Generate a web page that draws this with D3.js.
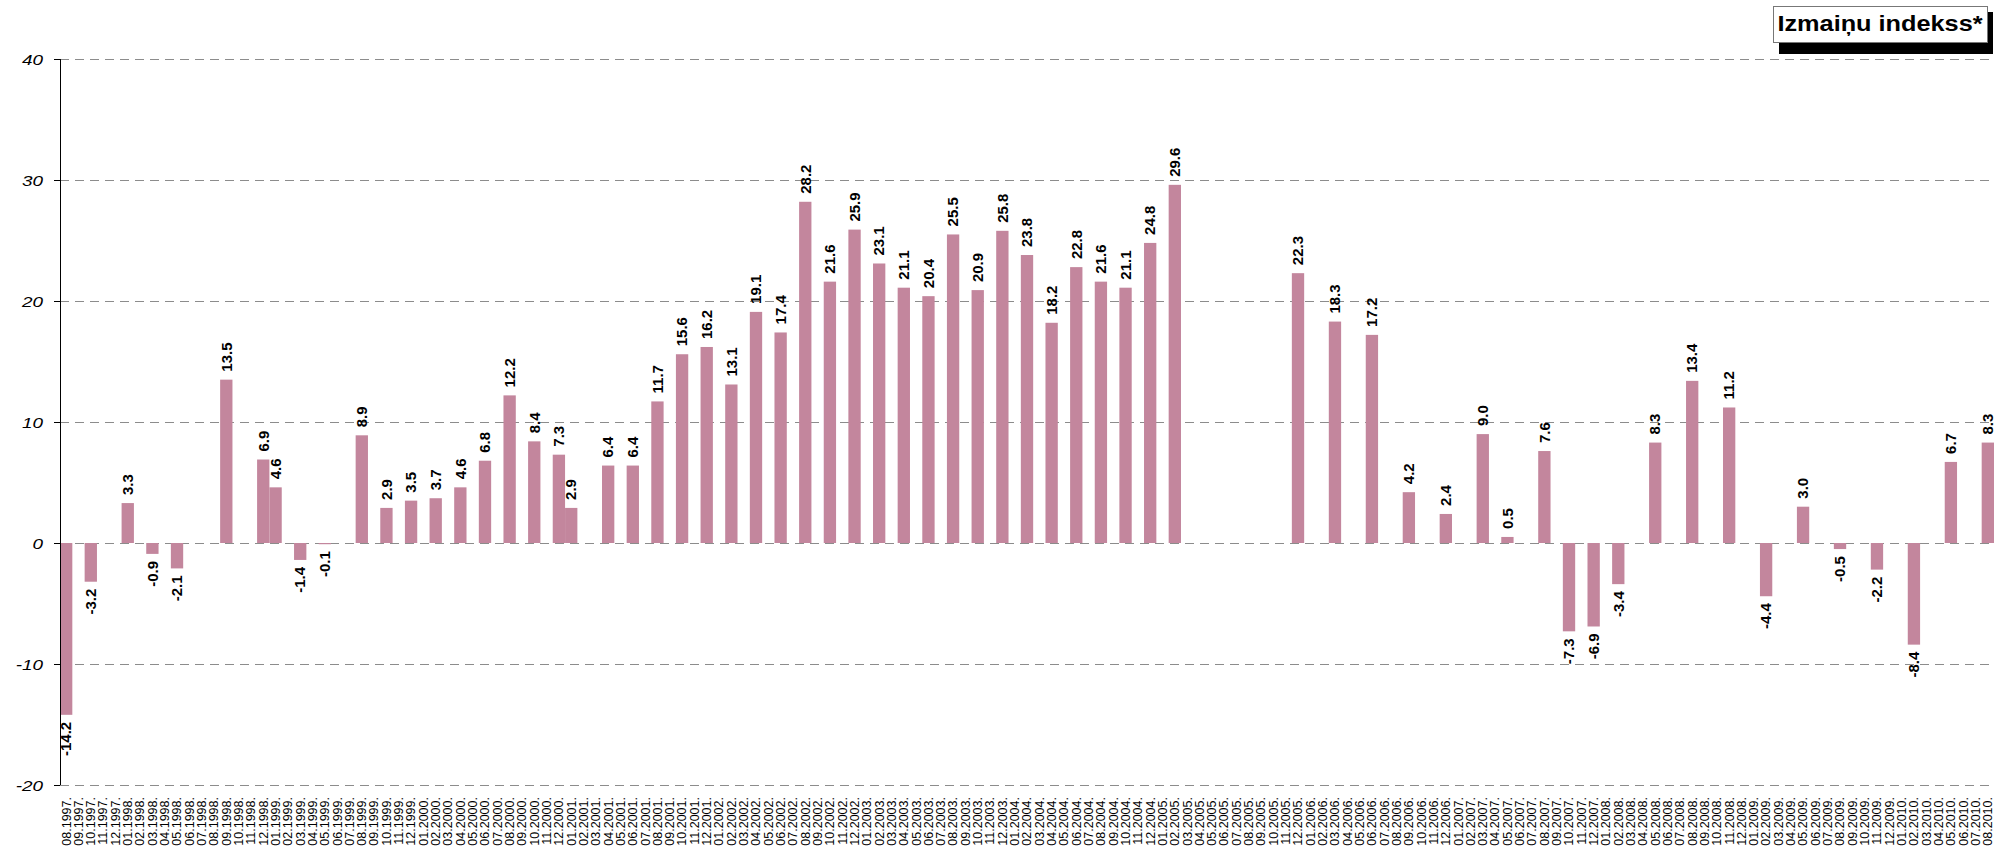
<!DOCTYPE html>
<html>
<head>
<meta charset="utf-8">
<script src="https://cdn.jsdelivr.net/npm/d3@7"></script>
<style>
  body { margin: 0; background: #fff; }
  text { font-family: "Liberation Sans", Arial, sans-serif; }
</style>
</head>
<body>
<script>
//chart size
var w = 2006, h = 849;

//month categories on the x axis
var months = [
  "08.1997.","09.1997.","10.1997.","11.1997.","12.1997.",
  "01.1998.","02.1998.","03.1998.","04.1998.","05.1998.","06.1998.","07.1998.","08.1998.","09.1998.","10.1998.","11.1998.","12.1998.",
  "01.1999.","02.1999.","03.1999.","04.1999.","05.1999.","06.1999.","07.1999.","08.1999.","09.1999.","10.1999.","11.1999.","12.1999.",
  "01.2000.","02.2000.","03.2000.","04.2000.","05.2000.","06.2000.","07.2000.","08.2000.","09.2000.","10.2000.","11.2000.","12.2000.",
  "01.2001.","02.2001.","03.2001.","04.2001.","05.2001.","06.2001.","07.2001.","08.2001.","09.2001.","10.2001.","11.2001.","12.2001.",
  "01.2002.","02.2002.","03.2002.","04.2002.","05.2002.","06.2002.","07.2002.","08.2002.","09.2002.","10.2002.","11.2002.","12.2002.",
  "01.2003.","02.2003.","03.2003.","04.2003.","05.2003.","06.2003.","07.2003.","08.2003.","09.2003.","10.2003.","11.2003.","12.2003.",
  "01.2004.","02.2004.","03.2004.","04.2004.","05.2004.","06.2004.","07.2004.","08.2004.","09.2004.","10.2004.","11.2004.","12.2004.",
  "01.2005.","02.2005.","03.2005.","04.2005.","05.2005.","06.2005.","07.2005.","08.2005.","09.2005.","10.2005.","11.2005.","12.2005.",
  "01.2006.","02.2006.","03.2006.","04.2006.","05.2006.","06.2006.","07.2006.","08.2006.","09.2006.","10.2006.","11.2006.","12.2006.",
  "01.2007.","02.2007.","03.2007.","04.2007.","05.2007.","06.2007.","07.2007.","08.2007.","09.2007.","10.2007.","11.2007.","12.2007.",
  "01.2008.","02.2008.","03.2008.","04.2008.","05.2008.","06.2008.","07.2008.","08.2008.","09.2008.","10.2008.","11.2008.","12.2008.",
  "01.2009.","02.2009.","03.2009.","04.2009.","05.2009.","06.2009.","07.2009.","08.2009.","09.2009.","10.2009.","11.2009.","12.2009.",
  "01.2010.","02.2010.","03.2010.","04.2010.","05.2010.","06.2010.","07.2010.","08.2010."
];

//months that have a value, and the values
var barMonths = [
  "08.1997.","10.1997.","01.1998.","03.1998.","05.1998.","09.1998.","12.1998.","01.1999.","03.1999.","05.1999.",
  "08.1999.","10.1999.","12.1999.","02.2000.","04.2000.","06.2000.","08.2000.","10.2000.","12.2000.","01.2001.",
  "04.2001.","06.2001.","08.2001.","10.2001.","12.2001.","02.2002.","04.2002.","06.2002.","08.2002.","10.2002.",
  "12.2002.","02.2003.","04.2003.","06.2003.","08.2003.","10.2003.","12.2003.","02.2004.","04.2004.","06.2004.",
  "08.2004.","10.2004.","12.2004.","02.2005.","12.2005.","03.2006.","06.2006.","09.2006.","12.2006.","03.2007.",
  "05.2007.","08.2007.","10.2007.","12.2007.","02.2008.","05.2008.","08.2008.","11.2008.","02.2009.","05.2009.",
  "08.2009.","11.2009.","02.2010.","05.2010.","08.2010."
];
var barValues = [
  -14.2,-3.2,3.3,-0.9,-2.1,13.5,6.9,4.6,-1.4,-0.1,
  8.9,2.9,3.5,3.7,4.6,6.8,12.2,8.4,7.3,2.9,
  6.4,6.4,11.7,15.6,16.2,13.1,19.1,17.4,28.2,21.6,
  25.9,23.1,21.1,20.4,25.5,20.9,25.8,23.8,18.2,22.8,
  21.6,21.1,24.8,29.6,22.3,18.3,17.2,4.2,2.4,9.0,
  0.5,7.6,-7.3,-6.9,-3.4,8.3,13.4,11.2,-4.4,3.0,
  -0.5,-2.2,-8.4,6.7,8.3
];

//y axis ticks
var yTicks = [-20, -10, 0, 10, 20, 30, 40];

var title = "Izmaiņu indekss*";

var bars = barMonths.map(function(m, i){ return {m: m, v: barValues[i]}; });

var svg = d3.select("body").append("svg")
    .attr("width", w)
    .attr("height", h);

var x = d3.scaleBand()
    .domain(months)
    .range([60, 1994])
    .padding(0);

var y = d3.scaleLinear()
    .domain([-20, 40])
    .range([785, 59]);

//dashed grid lines
svg.append("g")
    .selectAll("line")
    .data(yTicks)
    .join("line")
    .attr("x1", 60)
    .attr("x2", 1994)
    .attr("y1", function(d){ return Math.round(y(d)) + 0.5; })
    .attr("y2", function(d){ return Math.round(y(d)) + 0.5; })
    .attr("stroke", "#8c8c8c")
    .attr("stroke-width", 1.2)
    .attr("stroke-dasharray", "9,6");

//bars
svg.append("g")
    .selectAll("rect")
    .data(bars)
    .join("rect")
    .attr("x", function(d){ return x(d.m); })
    .attr("width", x.bandwidth())
    .attr("y", function(d){ return Math.min(y(d.v), y(0)); })
    .attr("height", function(d){ return Math.abs(y(d.v) - y(0)); })
    .attr("fill", "#c3869d");

//value labels (plain hyphen for the minus sign)
svg.append("g")
    .selectAll("text")
    .data(bars)
    .join("text")
    .attr("transform", function(d){
        var cx = x(d.m) + x.bandwidth() / 2;
        var ty = d.v >= 0 ? y(d.v) - 8 : y(d.v) + 7;
        return "translate(" + cx + "," + ty + ") rotate(-90)";
    })
    .attr("text-anchor", function(d){ return d.v >= 0 ? "start" : "end"; })
    .attr("dy", "0.35em")
    .attr("font-size", 15)
    .attr("font-weight", "bold")
    .attr("fill", "#000")
    .text(function(d){ return d.v.toFixed(1); });

//y axis
var yAxis = svg.append("g")
    .attr("transform", "translate(60,0)")
    .call(d3.axisLeft(y).tickValues(yTicks).tickSize(6).tickFormat(""));
yAxis.select(".domain").attr("stroke", "#000").attr("d", "M0.5," + y(40) + "V" + y(-20));
yAxis.selectAll(".tick line").attr("stroke", "#000");

svg.append("g")
    .selectAll("text")
    .data(yTicks)
    .join("text")
    .attr("transform", function(d){ return "translate(43," + y(d) + ") scale(1.22,1)"; })
    .attr("text-anchor", "end")
    .attr("dy", "0.36em")
    .attr("font-size", 15.5)
    .attr("font-style", "italic")
    .attr("fill", "#000")
    .text(function(d){ return d; });

//x axis month labels
svg.append("g")
    .attr("transform", "translate(0,785)")
    .call(d3.axisBottom(x).tickSize(0).tickPadding(0))
    .call(function(g){ g.select(".domain").remove(); })
    .selectAll("text")
    .attr("transform", "rotate(-90)")
    .attr("x", -12)
    .attr("y", 0)
    .attr("dy", "0.35em")
    .attr("text-anchor", "end")
    .attr("font-family", "Liberation Sans, Arial, sans-serif")
    .attr("font-size", 12.5)
    .attr("fill", "#000");

//title box with shadow
var tb = svg.append("g");
tb.append("rect")
    .attr("x", 1779).attr("y", 12)
    .attr("width", 214).attr("height", 42)
    .attr("fill", "#000");
tb.append("rect")
    .attr("x", 1773.5).attr("y", 6.5)
    .attr("width", 214).attr("height", 36)
    .attr("fill", "#fff")
    .attr("stroke", "#777");
tb.append("text")
    .attr("transform", "translate(1880,31) scale(1.15,1)")
    .attr("text-anchor", "middle")
    .attr("font-size", 22)
    .attr("font-weight", "bold")
    .text(title);
</script>
</body>
</html>
